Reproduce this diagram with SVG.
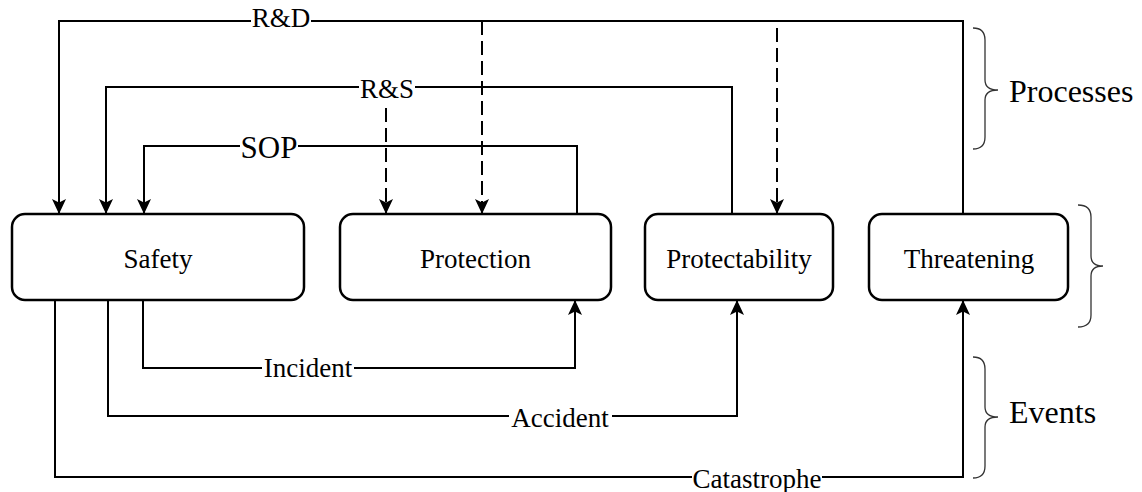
<svg xmlns="http://www.w3.org/2000/svg" width="1142" height="492" viewBox="0 0 1142 492">
<defs>
<marker id="arr" markerUnits="userSpaceOnUse" markerWidth="16" markerHeight="16" refX="15" refY="7" orient="auto">
<path d="M0,0 L15,7 L0,14 L3.5,7 Z" fill="#000"/>
</marker>
<style>
.box{fill:#fff;stroke:#000;stroke-width:2.5}
.lbl{font-family:"Liberation Serif","Times New Roman",serif;font-size:27px;fill:#000;text-anchor:middle}
.big{font-family:"Liberation Serif","Times New Roman",serif;font-size:32px;fill:#000}
.c{fill:none;stroke:#000;stroke-width:2}
.d{fill:none;stroke:#000;stroke-width:2;stroke-dasharray:14 6}
.a{marker-end:url(#arr)}
.bg{fill:#fff}
.br{fill:none;stroke:#333;stroke-width:1.3}
</style>
</defs>
<rect width="1142" height="492" fill="#fff"/>
<g id="connectors">
<!-- R&D -->
<path class="c a" d="M963,214 V21 H59 V214"/>
<!-- R&S -->
<path class="c a" d="M732,214 V87 H106 V214"/>
<!-- SOP -->
<path class="c a" d="M577,214 V146 H144 V214"/>
<!-- dashed -->
<path class="d a" d="M482,21 V214"/>
<path class="d a" d="M777,28 V214"/>
<path class="d a" d="M386,108 V214"/>
<!-- events -->
<path class="c a" d="M143,300 V368 H575 V300"/>
<path class="c a" d="M108,300 V416 H737 V300"/>
<path class="c a" d="M55,300 V477 H963 V300"/>
<!-- labels -->
<rect class="bg" x="251" y="8" width="60" height="24"/>
<text class="lbl" x="281" y="27">R&amp;D</text>
<rect class="bg" x="359" y="76" width="56" height="24"/>
<text class="lbl" x="387" y="98">R&amp;S</text>
<rect class="bg" x="240" y="134" width="58" height="26"/>
<text class="lbl" x="269" y="158" style="font-size:31px">SOP</text>
<rect class="bg" x="262" y="356" width="92" height="24"/>
<text class="lbl" x="308" y="377">Incident</text>
<rect class="bg" x="509" y="404" width="103" height="24"/>
<text class="lbl" x="560" y="427">Accident</text>
<rect class="bg" x="692" y="466" width="130" height="24"/>
<text class="lbl" x="757" y="488">Catastrophe</text>
</g>
<g id="safety">
<rect class="box" x="12" y="214" width="292" height="86" rx="13"/>
<text class="lbl" x="158" y="268">Safety</text>
</g>
<g id="protection">
<rect class="box" x="340" y="214" width="271" height="86" rx="13"/>
<text class="lbl" x="475.5" y="268">Protection</text>
</g>
<g id="protectability">
<rect class="box" x="645" y="214" width="188" height="86" rx="13"/>
<text class="lbl" x="739" y="268">Protectability</text>
</g>
<g id="threatening">
<rect class="box" x="869" y="214" width="199" height="86" rx="13"/>
<text class="lbl" x="969" y="268">Threatening</text>
</g>
<g id="braces">
<path class="br" d="M973,28 Q985,28 985,40 L985,80 Q985,90 998,90 Q985,90 985,100 L985,137 Q985,149 973,149"/>
<text class="big" x="1009" y="102">Processes</text>
<path class="br" d="M1078,205 Q1091,205 1091,217 L1091,256 Q1091,266 1103,266 Q1091,266 1091,276 L1091,315 Q1091,327 1078,327"/>
<path class="br" d="M973,357 Q985,357 985,369 L985,407 Q985,417 998,417 Q985,417 985,427 L985,466 Q985,478 973,478"/>
<text class="big" x="1009" y="423">Events</text>
</g>
</svg>
